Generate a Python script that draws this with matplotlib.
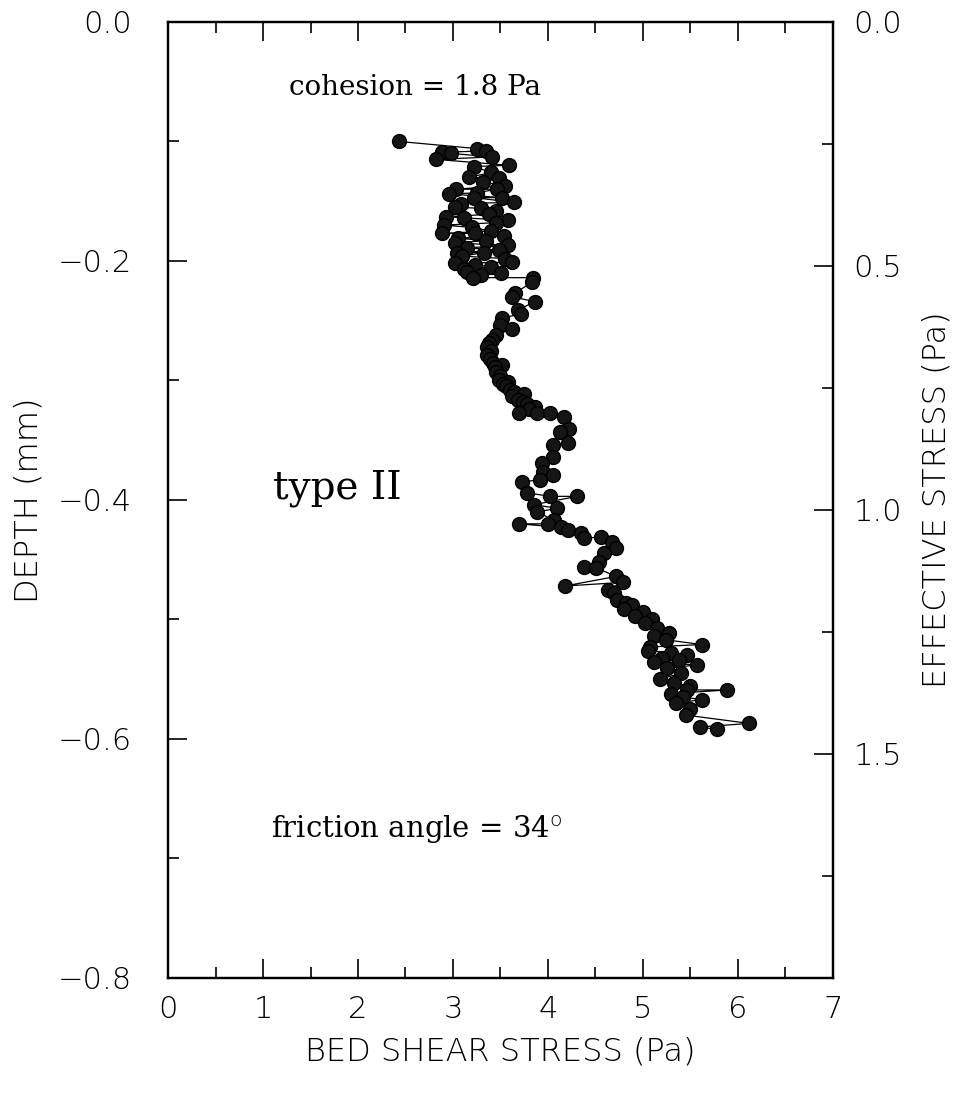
import matplotlib
matplotlib.use("Agg")
import matplotlib.pyplot as plt
from matplotlib.ticker import MultipleLocator, FuncFormatter

# bed shear stress (Pa) and depth (mm), in measurement order
shear = [2.43, 3.25, 3.35, 2.88, 2.98, 3.41, 2.82, 3.59, 3.22, 3.40,
         3.17, 3.48, 3.32, 3.55, 3.03, 3.46, 3.25, 2.96, 3.52, 3.22,
         3.64, 3.08, 3.02, 3.30, 3.45, 3.38, 2.93, 3.12, 3.58, 3.45,
         2.91, 3.20, 3.40, 2.88, 3.23, 3.54, 3.05, 3.35, 3.02, 3.58,
         3.15, 3.48, 3.04, 3.33, 3.10, 3.55, 3.62, 3.02, 3.23, 3.40,
         3.12, 3.15, 3.51, 3.30, 3.21, 3.84,
         3.83, 3.65, 3.62, 3.86, 3.69, 3.72, 3.52, 3.50, 3.62, 3.45,
         3.41, 3.38, 3.36, 3.40, 3.36, 3.39, 3.42, 3.52, 3.44, 3.45,
         3.50, 3.49, 3.58, 3.53, 3.56, 3.60, 3.64, 3.75, 3.62, 3.69,
         3.74, 3.78, 3.86, 3.80, 3.70, 3.88, 4.02, 4.17, 4.22, 4.13,
         4.21, 4.05, 4.05, 3.94, 3.95, 4.05, 3.92, 3.73, 3.78, 4.02,
         4.31, 3.85, 4.10, 3.89, 4.06, 4.00, 3.70, 4.14, 4.21, 4.35,
         4.38, 4.56, 4.68, 4.72, 4.59, 4.54, 4.38, 4.51, 4.72,
         4.18, 4.79, 4.63, 4.70, 4.73, 4.82, 4.89, 4.80, 5.00, 4.92,
         5.10, 5.02, 5.15, 5.28, 5.12, 5.24, 5.62, 5.08, 5.05, 5.30,
         5.47, 5.20, 5.38, 5.12, 5.57, 5.25, 5.40, 5.18, 5.33, 5.50,
         5.47, 5.89, 5.30, 5.42, 5.62, 5.35, 5.50, 5.45, 6.12, 5.60, 5.78]
depth = [-0.100, -0.106, -0.108, -0.109, -0.110, -0.113, -0.115, -0.120, -0.121, -0.126,
         -0.130, -0.131, -0.134, -0.137, -0.140, -0.140, -0.143, -0.144, -0.147, -0.147,
         -0.151, -0.152, -0.155, -0.156, -0.158, -0.161, -0.163, -0.164, -0.166, -0.168,
         -0.170, -0.172, -0.175, -0.177, -0.177, -0.179, -0.181, -0.183, -0.185, -0.187,
         -0.189, -0.191, -0.193, -0.193, -0.196, -0.198, -0.201, -0.202, -0.203, -0.205,
         -0.207, -0.209, -0.210, -0.212, -0.214, -0.214,
         -0.218, -0.227, -0.230, -0.234, -0.241, -0.244, -0.248, -0.254, -0.257, -0.262,
         -0.266, -0.269, -0.272, -0.275, -0.279, -0.282, -0.285, -0.287, -0.289, -0.293,
         -0.296, -0.300, -0.301, -0.303, -0.305, -0.308, -0.310, -0.311, -0.313, -0.316,
         -0.318, -0.320, -0.322, -0.324, -0.327, -0.327, -0.327, -0.331, -0.341, -0.343,
         -0.352, -0.354, -0.364, -0.369, -0.377, -0.379, -0.383, -0.385, -0.394, -0.397,
         -0.397, -0.404, -0.407, -0.410, -0.417, -0.420, -0.420, -0.423, -0.425, -0.428,
         -0.432, -0.431, -0.435, -0.440, -0.444, -0.452, -0.456, -0.457, -0.464,
         -0.472, -0.469, -0.475, -0.478, -0.484, -0.486, -0.488, -0.491, -0.494, -0.497,
         -0.500, -0.503, -0.507, -0.511, -0.514, -0.517, -0.521, -0.523, -0.526, -0.528,
         -0.530, -0.532, -0.534, -0.536, -0.538, -0.541, -0.545, -0.550, -0.553, -0.556,
         -0.559, -0.559, -0.562, -0.565, -0.567, -0.570, -0.575, -0.580, -0.587, -0.590, -0.592]

plt.rcParams['font.family'] = ['DejaVu Sans']
plt.rcParams['font.weight'] = 'light'
plt.rcParams['axes.labelweight'] = 'light'


def fmt1(v, pos):
    return ('%.1f' % v).replace('-', '\u2212')


fig = plt.figure(figsize=(9.55, 10.96), dpi=100)
ax = fig.add_axes([0.176, 0.1077, 0.696, 0.8723])

ax.plot(shear, depth, color='black', lw=0.9, marker='o', ms=10,
        markerfacecolor='#151515', markeredgecolor='black', zorder=3)

ax.set_xlim(0, 7)
ax.set_ylim(-0.8, 0)
ax.xaxis.set_major_locator(MultipleLocator(1))
ax.xaxis.set_minor_locator(MultipleLocator(0.5))
ax.yaxis.set_major_locator(MultipleLocator(0.2))
ax.yaxis.set_minor_locator(MultipleLocator(0.1))
ax.yaxis.set_major_formatter(FuncFormatter(fmt1))
ax.tick_params(which='both', direction='in', top=True, right=False, labelsize=22, width=1.2)
ax.tick_params(axis='y', pad=26)
ax.tick_params(axis='x', pad=12)
ax.tick_params(which='major', length=14)
ax.tick_params(which='minor', length=8)
for s in ax.spines.values():
    s.set_linewidth(1.6)

ax.set_xlabel('BED SHEAR STRESS (Pa)', fontsize=23, labelpad=9)
ax.set_ylabel('DEPTH (mm)', fontsize=23, labelpad=10)

# effective stress scale on the right
ax2 = ax.twinx()
ax2.set_ylim(1.96, 0)
ax2.yaxis.set_major_locator(MultipleLocator(0.5))
ax2.yaxis.set_minor_locator(MultipleLocator(0.25))
ax2.yaxis.set_major_formatter(FuncFormatter(fmt1))
ax2.tick_params(which='both', direction='in', labelsize=22, pad=15, width=1.2)
ax2.tick_params(which='major', length=14)
ax2.tick_params(which='minor', length=8)
ax2.set_ylabel('EFFECTIVE STRESS (Pa)', fontsize=23, labelpad=14)
for s in ax2.spines.values():
    s.set_linewidth(1.6)

ax.text(2.6, -0.055, 'cohesion = 1.8 Pa', family='DejaVu Serif', fontsize=20,
        fontweight='normal', ha='center', va='center')
ax.text(1.1, -0.39, 'type II', family='DejaVu Serif', fontsize=28,
        fontweight='normal', ha='left', va='center')
ax.text(1.08, -0.676, r'friction angle = 34$^\mathrm{o}$', family='DejaVu Serif',
        fontsize=21, fontweight='normal', ha='left', va='center')

fig.savefig('out.png', dpi=100)
